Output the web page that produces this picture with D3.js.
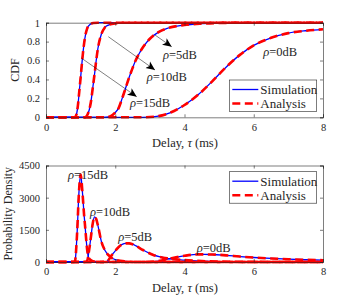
<!DOCTYPE html>
<html>
  <head>
    <meta charset="utf-8">
    <script src="https://cdn.jsdelivr.net/npm/d3@7/dist/d3.min.js" charset="utf-8"></script>
    <style>
      body { margin: 0; background: #fff; }
      text { font-family: "Liberation Serif", "DejaVu Serif", serif; fill: #262626; }
    </style>
  </head>
  <body>
    <script type="text/javascript">
      var w = 357;
      var h = 303;

      // Dados: atraso (ms) e CDF / densidade por SNR
      var rhoLabels = ["15dB", "10dB", "5dB", "0dB"];

      var tCdf15 = [0, 0.8, 0.84, 0.88, 0.92, 0.96, 1.0, 1.04, 1.08, 1.12, 1.19, 1.27, 1.37, 1.5, 8];
      var cdf15  = [0, 0, 0.003, 0.03, 0.12, 0.27, 0.42, 0.58, 0.72, 0.83, 0.94, 0.98, 0.997, 1, 1];
      var tCdf10 = [0, 1.1, 1.15, 1.2, 1.25, 1.3, 1.35, 1.4, 1.45, 1.5, 1.6, 1.7, 1.8, 2.0, 2.3, 8];
      var cdf10  = [0, 0, 0.005, 0.03, 0.08, 0.17, 0.31, 0.45, 0.6, 0.73, 0.88, 0.95, 0.975, 0.993, 1, 1];
      var tCdf5  = [0, 1.7, 1.85, 2.0, 2.1, 2.2, 2.3, 2.4, 2.5, 2.6, 2.7, 2.8, 3.0, 3.25, 3.5, 4.0, 4.5, 5.0, 6.0, 8];
      var cdf5   = [0, 0, 0.01, 0.05, 0.1, 0.2, 0.31, 0.42, 0.52, 0.61, 0.68, 0.74, 0.83, 0.9, 0.94, 0.975, 0.99, 0.997, 1, 1];
      var tCdf0  = [0, 2.8, 3.2, 3.6, 4.0, 4.4, 4.8, 5.2, 5.6, 6.0, 6.5, 7.0, 7.5, 8.0];
      var cdf0   = [0, 0, 0.01, 0.05, 0.13, 0.24, 0.38, 0.53, 0.66, 0.76, 0.84, 0.89, 0.915, 0.93];

      var tPdf15 = [0, 0.8, 0.84, 0.87, 0.9, 0.95, 1.0, 1.05, 1.1, 1.13, 1.19, 1.25, 1.35, 1.5, 8];
      var pdf15  = [0, 0, 50, 560, 1400, 3200, 4080, 3300, 2200, 1650, 560, 150, 40, 0, 0];
      var tPdf10 = [0, 1.1, 1.18, 1.25, 1.3, 1.35, 1.4, 1.45, 1.5, 1.6, 1.7, 1.85, 2.0, 2.3, 2.6, 8];
      var pdf10  = [0, 0, 30, 600, 1200, 1800, 2100, 2000, 1700, 950, 550, 250, 110, 25, 0, 0];
      var tPdf5  = [0, 1.6, 1.75, 1.9, 2.0, 2.1, 2.2, 2.3, 2.4, 2.5, 2.6, 2.8, 3.1, 3.5, 4.0, 4.5, 5.0, 6.0, 8];
      var pdf5   = [0, 0, 20, 320, 520, 700, 820, 870, 870, 830, 750, 560, 330, 170, 90, 45, 20, 5, 0];
      var tPdf0  = [0, 2.8, 3.2, 3.6, 4.0, 4.4, 4.8, 5.2, 5.6, 6.0, 6.5, 7.0, 7.5, 8.0];
      var pdf0   = [0, 0, 30, 170, 290, 355, 350, 310, 255, 210, 165, 130, 105, 85];

      var xTicks = [0, 2, 4, 6, 8];
      var cdfTicks = [0, 0.2, 0.4, 0.6, 0.8, 1];
      var pdfTicks = [0, 1500, 3000, 4500];

      var cdfSeries = [[tCdf15, cdf15], [tCdf10, cdf10], [tCdf5, cdf5], [tCdf0, cdf0]];
      var pdfSeries = [[tPdf15, pdf15], [tPdf10, pdf10], [tPdf5, pdf5], [tPdf0, pdf0]];

      var svg = d3.select("body")
                  .append("svg")
                    .attr("width", w)
                    .attr("height", h);

      svg.append("defs").append("marker")
          .attr("id", "seta")
          .attr("viewBox", "0 0 10 10")
          .attr("refX", 10).attr("refY", 5)
          .attr("markerWidth", 9).attr("markerHeight", 9)
          .attr("markerUnits", "userSpaceOnUse")
          .attr("orient", "auto")
        .append("path")
          .attr("d", "M0,0.5 L10,5 L0,9.5 L2.5,5 Z")
          .attr("fill", "#000");

      var x = d3.scaleLinear().domain([0, 8]).range([46, 323]);
      var yTop = d3.scaleLinear().domain([0, 1]).range([117.3, 22.7]);
      var yBot = d3.scaleLinear().domain([0, 4500]).range([262, 165.5]);

      function painel(y, ticks, fmt, yLabel, yLabelX, series) {
        var g = svg.append("g");
        var y0 = y.range()[0], y1 = y.range()[1];

        g.append("rect")
          .attr("x", x(0)).attr("y", y1)
          .attr("width", x(8) - x(0)).attr("height", y0 - y1)
          .attr("fill", "#fff");

        var linha = d3.line()
          .x(function(d){ return x(d[0]); })
          .y(function(d){ return y(d[1]); })
          .curve(d3.curveMonotoneX);

        function pontos(s) {
          return s[0].map(function(t, i){ return [t, s[1][i]]; });
        }

        series.forEach(function(s){
          g.append("path")
            .attr("d", linha(pontos(s)))
            .attr("fill", "none")
            .attr("stroke", "#0000ff")
            .attr("stroke-width", 1.3);
        });
        series.forEach(function(s){
          g.append("path")
            .attr("d", linha(pontos(s)))
            .attr("fill", "none")
            .attr("stroke", "#ff0000")
            .attr("stroke-width", 2.6)
            .attr("stroke-dasharray", "8,4.5");
        });

        // Eixos com marcas para dentro, como no MATLAB
        var ax = [
          g.append("g").attr("transform", "translate(0," + y0 + ")")
            .call(d3.axisBottom(x).tickValues(xTicks).tickSize(-3).tickPadding(6).tickFormat(d3.format("d"))),
          g.append("g").attr("transform", "translate(0," + y1 + ")")
            .call(d3.axisTop(x).tickValues(xTicks).tickSize(-3).tickFormat("")),
          g.append("g").attr("transform", "translate(" + x(0) + ",0)")
            .call(d3.axisLeft(y).tickValues(ticks).tickSize(-3).tickPadding(6).tickFormat(fmt)),
          g.append("g").attr("transform", "translate(" + x(8) + ",0)")
            .call(d3.axisRight(y).tickValues(ticks).tickSize(-3).tickFormat(""))
        ];
        ax.forEach(function(a){
          a.selectAll("path, line").attr("stroke", "#262626").attr("stroke-width", 0.6);
          a.selectAll("text").attr("font-size", 10.5).attr("fill", "#262626")
            .attr("font-family", "Liberation Serif");
        });

        g.append("text")
          .attr("transform", "translate(" + yLabelX + "," + ((y0 + y1) / 2) + ") rotate(-90)")
          .attr("text-anchor", "middle")
          .attr("font-size", 12)
          .text(yLabel);

        var xl = g.append("text")
          .attr("x", 185).attr("y", y0 + 30)
          .attr("text-anchor", "middle")
          .attr("font-size", 12.5);
        xl.append("tspan").text("Delay, ");
        xl.append("tspan").attr("font-style", "italic").text("τ");
        xl.append("tspan").text(" (ms)");

        return g;
      }

      function rotulo(g, px, py, txt) {
        var t = g.append("text")
          .attr("x", px).attr("y", py)
          .attr("dy", "0.35em")
          .attr("font-size", 12.5);
        t.append("tspan").attr("font-style", "italic").text("ρ");
        t.append("tspan").text("=" + txt);
      }

      function legenda(g, lx, ly) {
        g.append("rect")
          .attr("x", lx).attr("y", ly)
          .attr("width", 87.4).attr("height", 31.5)
          .attr("fill", "#fff")
          .attr("stroke", "#262626")
          .attr("stroke-width", 0.6);
        var itens = [["Simulation", "#0000ff", 1.3, null], ["Analysis", "#ff0000", 2.6, "8,4.5"]];
        itens.forEach(function(it, i){
          var yy = ly + 9.5 + i * 14;
          g.append("line")
            .attr("x1", lx + 3).attr("x2", lx + 29)
            .attr("y1", yy).attr("y2", yy)
            .attr("stroke", it[1])
            .attr("stroke-width", it[2])
            .attr("stroke-dasharray", it[3]);
          g.append("text")
            .attr("x", lx + 31).attr("y", yy)
            .attr("dy", "0.35em")
            .attr("font-size", 13)
            .text(it[0]);
        });
      }

      var gTop = painel(yTop, cdfTicks, d3.format("~g"), "CDF", 18.5, cdfSeries);
      var gBot = painel(yBot, pdfTicks, d3.format("d"), "Probability Density", 12, pdfSeries);

      // Setas do painel de cima
      var setas = [[155, 35, 171.7, 46.7], [108.3, 36.7, 155, 70], [81.7, 58.3, 136.7, 96.7]];
      setas.forEach(function(s){
        gTop.append("line")
          .attr("x1", s[0]).attr("y1", s[1])
          .attr("x2", s[2]).attr("y2", s[3])
          .attr("stroke", "#000")
          .attr("stroke-width", 0.5)
          .attr("marker-end", "url(#seta)");
      });

      rotulo(gTop, 163, 54.3, rhoLabels[2]);
      rotulo(gTop, 146.7, 76.7, rhoLabels[1]);
      rotulo(gTop, 130, 102.3, rhoLabels[0]);
      rotulo(gTop, 263.3, 51.7, rhoLabels[3]);

      rotulo(gBot, 68, 175, rhoLabels[0]);
      rotulo(gBot, 90, 211.7, rhoLabels[1]);
      rotulo(gBot, 118.3, 236.7, rhoLabels[2]);
      rotulo(gBot, 196.7, 247.3, rhoLabels[3]);

      legenda(gTop, 229.3, 80);
      legenda(gBot, 229.3, 171.7);
    </script>
  </body>
</html>
